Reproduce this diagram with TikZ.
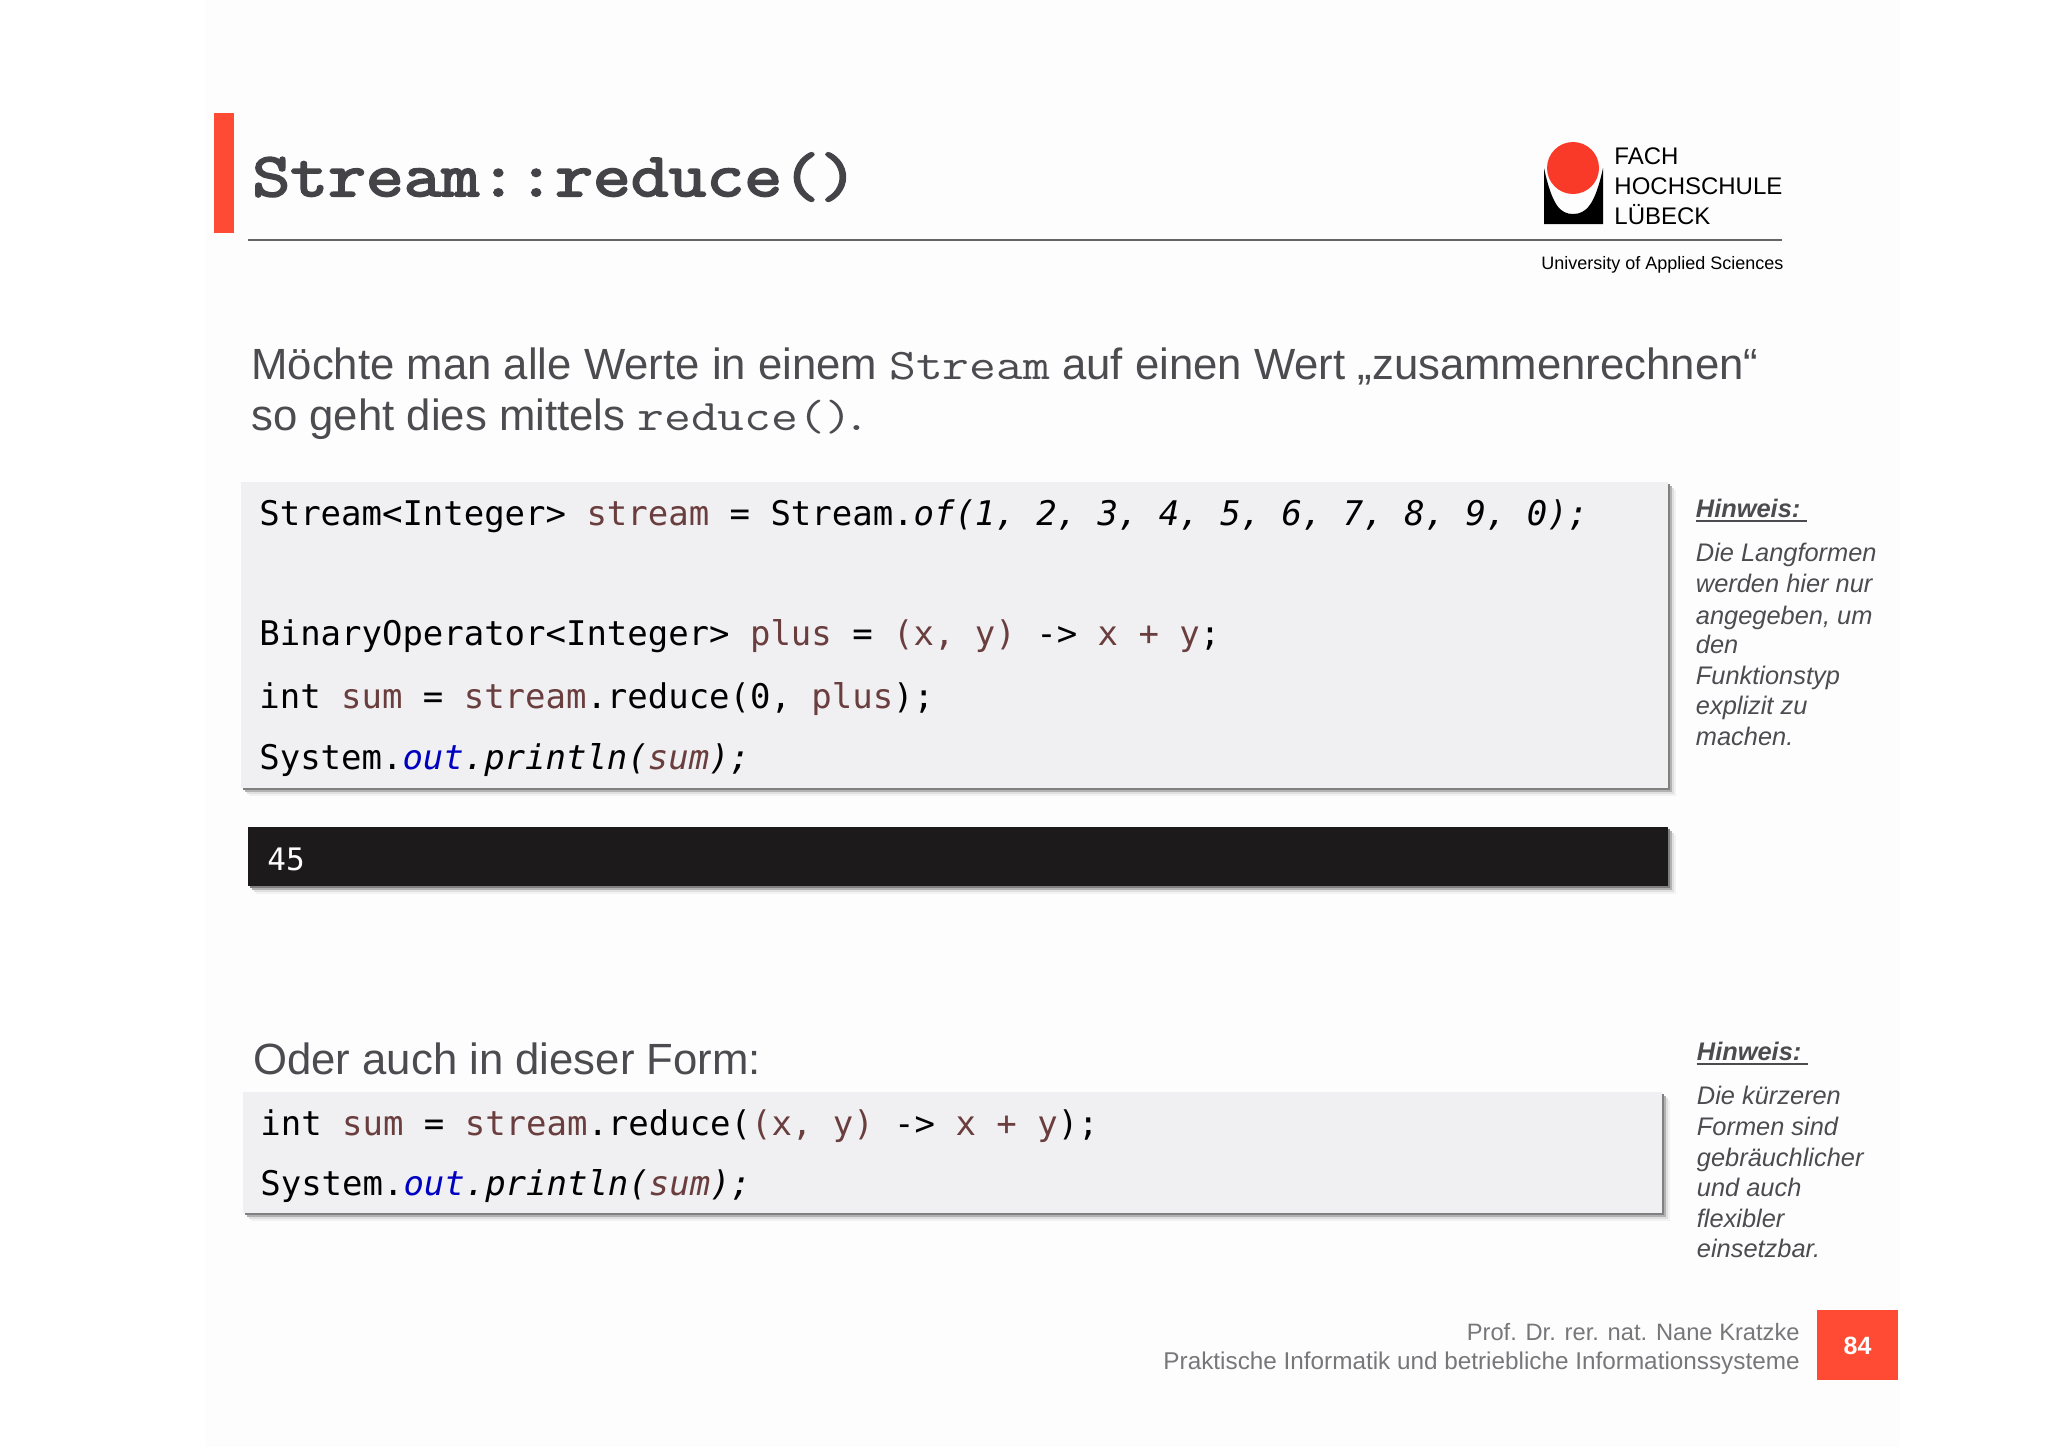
\documentclass[tikz,border=0pt]{standalone}
\usepackage{fontspec}
\usepackage{xcolor}
\setmainfont{Liberation Sans}
\newfontfamily\codefont{DejaVu Sans Mono}
\newfontfamily\titlefont[FakeBold=3.2,FakeStretch=1.185]{Latin Modern Mono}

\definecolor{fhred}{HTML}{FF4B33}
\definecolor{logored}{HTML}{FA3A28}
\definecolor{fhtext}{HTML}{4C4C50}
\definecolor{fhgrey}{HTML}{77777A}
\definecolor{pagebg}{HTML}{FEFDFE}
\definecolor{codebg}{HTML}{F0EFF1}
\definecolor{consolebg}{HTML}{1C1A1B}
\definecolor{codevar}{HTML}{6A3E3E}
\definecolor{codefield}{HTML}{0000C0}

\newcommand{\vr}[1]{\textcolor{codevar}{#1}}
\newcommand{\inlinecode}[1]{\scalebox{1.19}[1]{\ttfamily #1}}
\newcommand{\shadowbox}[5]{%
  \foreach \d/\s in {8/5,6/12,4/30,2/50}
    \fill[black!\s] (#1+\d,#2+\d) rectangle (#3+\d,#4+\d);
  \fill[#5] (#1,#2) rectangle (#3,#4);
}

\tikzset{
  lbl/.style={inner sep=0pt, anchor=base west},
  code/.style={lbl, font=\fontsize{16.98}{20}\selectfont\codefont},
  body/.style={lbl, text=fhtext, font=\fontsize{21.85}{26}\selectfont},
  hint/.style={lbl, text=fhtext, font=\fontsize{12.7}{15}\selectfont\itshape},
  hinthead/.style={hint, font=\fontsize{12.7}{15}\selectfont\itshape\bfseries},
  foot/.style={inner sep=0pt, anchor=base east, text=fhgrey, font=\fontsize{12.15}{15}\selectfont},
  logotext/.style={lbl, text=black, font=\fontsize{12}{14}\selectfont},
}

\begin{document}
\begin{tikzpicture}[x=0.5pt, y=-0.5pt]
\useasboundingbox (0,0) rectangle (2048,1447);
\fill[white] (0,0) rectangle (2048,1447);
\fill[pagebg] (205,0) rectangle (1900,1447);

\fill[fhred] (214,113) rectangle (234,233);
\node[lbl, text=fhtext!90!black, font=\fontsize{31}{36}\selectfont\titlefont] (title) at (252,196) {Stream::reduce()};
\draw[fhgrey!85!black, line width=0.8pt] (248,240) -- (1782,240);

\fill[black] (1544,168) .. controls (1552,205) and (1560,214) .. (1573,214) .. controls (1586,214) and (1595,205) .. (1603,168) -- (1603,224) -- (1544,224) -- cycle;
\fill[logored] (1573,168) circle (26);
\node[logotext] (fach) at (1614,164) {FACH};
\node[logotext] (hochschule) at (1614,194) {HOCHSCHULE};
\node[logotext] (luebeck) at (1614,224) {LÜBECK};
\node[lbl, text=black, font=\fontsize{9}{10}\selectfont] (university) at (1541,269) {University of Applied Sciences};

\node[body] (intro) at (251,379) {Möchte man alle Werte in einem \inlinecode{Stream} auf einen Wert „zusammenrechnen“};
\node[body] (introb) at (251,430) {so geht dies mittels \inlinecode{reduce()}\kern-4pt\inlinecode{.}};

\shadowbox{241}{482}{1668}{788}{codebg}
\node[code] (linea) at (259,525) {Stream<Integer> \vr{stream} = Stream.\textit{of(1, 2, 3, 4, 5, 6, 7, 8, 9, 0);}};
\node[code] (lineb) at (259,645) {BinaryOperator<Integer> \vr{plus} = \vr{(x, y)} -> \vr{x + y};};
\node[code] (linec) at (259,708) {int \vr{sum} = \vr{stream}.reduce(0, \vr{plus});};
\node[code] (lined) at (259,769) {System.\textit{\textcolor{codefield}{out}.println(\vr{sum});}};

\shadowbox{248}{827}{1668}{886}{consolebg}
\node[lbl, text=white, font=\fontsize{15.5}{18}\selectfont\codefont] (result) at (267,870) {45};

\node[body] (oder) at (253,1074) {Oder auch in dieser Form:};

\shadowbox{243}{1092}{1662}{1213}{codebg}
\node[code] (linee) at (260,1135) {int \vr{sum} = \vr{stream}.reduce(\vr{(x, y)} -> \vr{x + y});};
\node[code] (linef) at (260,1195) {System.\textit{\textcolor{codefield}{out}.println(\vr{sum});}};

\node[hinthead] (hinta) at (1695.5,517) {Hinweis:};
\draw[fhtext, line width=1pt] (1695.5,521) -- (1807,521);
\node[hint] (hintaa) at (1695.5,561) {Die Langformen};
\node[hint] (hintab) at (1695.5,592) {werden hier nur};
\node[hint] (hintac) at (1695.5,624) {angegeben, um};
\node[hint] (hintad) at (1695.5,653) {den};
\node[hint] (hintae) at (1695.5,684) {Funktionstyp};
\node[hint] (hintaf) at (1695.5,714) {explizit zu};
\node[hint] (hintag) at (1695.5,745) {machen.};

\node[hinthead] (hintb) at (1696.5,1060) {Hinweis:};
\draw[fhtext, line width=1pt] (1696.5,1064) -- (1808,1064);
\node[hint] (hintba) at (1696.5,1104) {Die kürzeren};
\node[hint] (hintbb) at (1696.5,1135) {Formen sind};
\node[hint] (hintbc) at (1696.5,1166) {gebräuchlicher};
\node[hint] (hintbd) at (1696.5,1196) {und auch};
\node[hint] (hintbe) at (1696.5,1227) {flexibler};
\node[hint] (hintbf) at (1696.5,1257) {einsetzbar.};

\node[foot, font=\fontsize{11.85}{15}\selectfont] (prof) at (1800,1340) {Prof. Dr. rer. nat. Nane Kratzke};
\node[foot] (chair) at (1800,1369) {Praktische Informatik und betriebliche Informationssysteme};
\fill[fhred] (1817,1310) rectangle (1898,1380);
\node[inner sep=0pt, text=white, font=\fontsize{12.5}{15}\selectfont\bfseries] (page) at (1857.5,1346) {84};
\end{tikzpicture}
\end{document}
